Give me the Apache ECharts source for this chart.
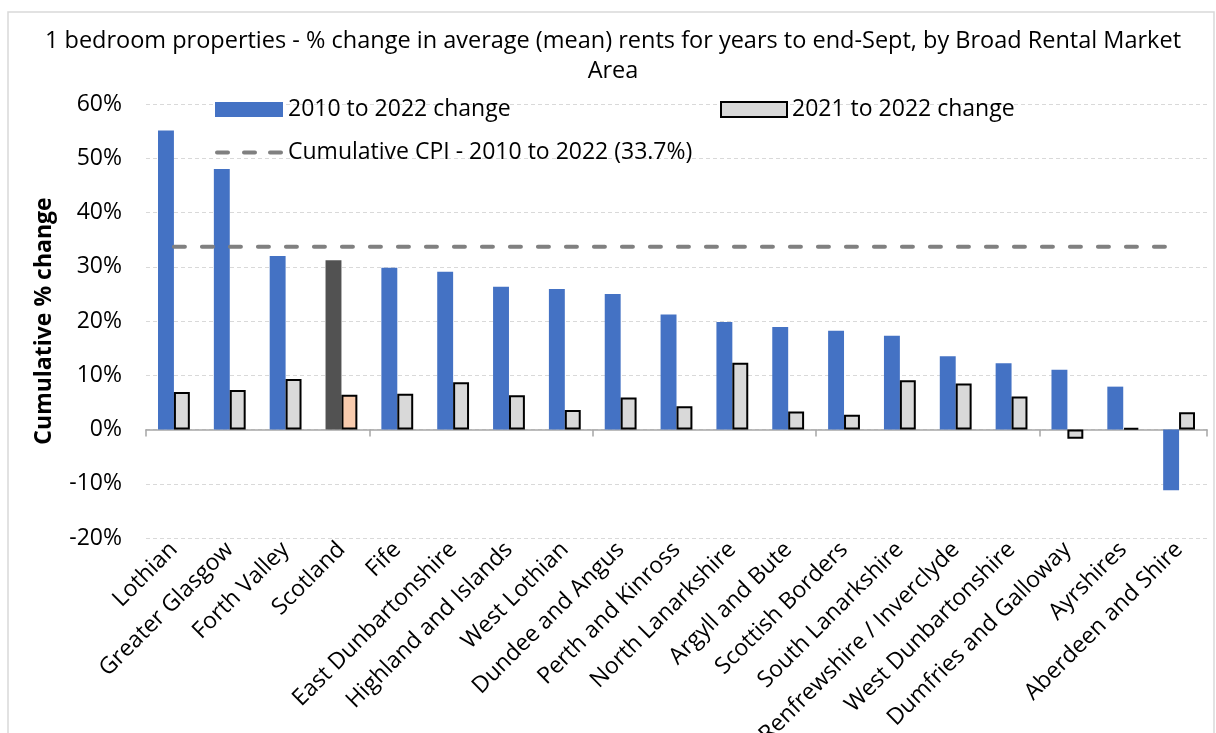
<!DOCTYPE html>
<html>
<head>
<meta charset="utf-8">
<title>1 bedroom properties - % change in average rents</title>
<script src="https://cdn.jsdelivr.net/npm/echarts@6/dist/echarts.min.js"></script>
<style>
  html, body { margin: 0; padding: 0; background: #ffffff; overflow: hidden; }
  #chart { width: 1216px; height: 733px; }
</style>
</head>
<body>
<div id="chart"></div>
<script>
// Broad Rental Market Areas, sorted by 2010-2022 change
const categories = [
  'Lothian', 'Greater Glasgow', 'Forth Valley', 'Scotland', 'Fife',
  'East Dunbartonshire', 'Highland and Islands', 'West Lothian',
  'Dundee and Angus', 'Perth and Kinross', 'North Lanarkshire',
  'Argyll and Bute', 'Scottish Borders', 'South Lanarkshire',
  'Renfrewshire / Inverclyde', 'West Dunbartonshire',
  'Dumfries and Galloway', 'Ayrshires', 'Aberdeen and Shire'
];

// % change in average (mean) 1 bedroom rents
const change2010to2022 = [55.1, 48.0, 32.0, 31.2, 29.8, 29.1, 26.3, 25.9, 25.0, 21.2,
                          19.8, 18.9, 18.2, 17.3, 13.5, 12.2, 11.0, 7.9, -11.2];
const change2021to2022 = [6.9, 7.3, 9.3, 6.4, 6.6, 8.7, 6.3, 3.6, 5.9, 4.3,
                          12.3, 3.3, 2.7, 9.1, 8.5, 6.1, -1.7, 0.3, 3.2];

// Cumulative CPI, 2010 to 2022
const cpiCumulative = 33.7;

// Value axis range (percent)
const yMin = -20;
const yMax = 60;
const yStep = 10;

const nationalArea = 'Scotland';
const FONT = '"Open Sans", "Noto Sans", sans-serif';

const chart = echarts.init(document.getElementById('chart'), null, { renderer: 'canvas' });

const longTermData = change2010to2022.map((v, i) =>
  categories[i] === nationalArea ? { value: v, itemStyle: { color: '#525252' } } : v);
const annualData = change2021to2022.map((v, i) =>
  categories[i] === nationalArea ? { value: v, itemStyle: { color: '#F8CBAD' } } : v);
const cpiData = categories.map(() => cpiCumulative);

const legendText = { fontFamily: FONT, fontSize: 23, color: '#000000' };

// three rounded dashes for the CPI legend key
const dashIcon = 'path://M2,0h11a2,2 0 0 1 0,4h-11a2,2 0 0 1 0,-4z' +
                 'M29,0h11a2,2 0 0 1 0,4h-11a2,2 0 0 1 0,-4z' +
                 'M55,0h11a2,2 0 0 1 0,4h-11a2,2 0 0 1 0,-4z';

const option = {
  backgroundColor: '#ffffff',
  animation: false,
  textStyle: { fontFamily: FONT },
  title: {
    text: '1 bedroom properties - % change in average (mean) rents for years to end-Sept, by Broad Rental Market\nArea',
    left: 608,
    textAlign: 'center',
    top: 21,
    textStyle: { fontFamily: FONT, fontSize: 23.5, fontWeight: 'normal', color: '#000000', lineHeight: 30 }
  },
  graphic: [{
    type: 'rect',
    shape: { x: 8, y: 12, width: 1206, height: 740 },
    style: { fill: 'none', stroke: '#D9D9D9', lineWidth: 1.5 },
    silent: true,
    z: -10
  }],
  legend: [
    {
      data: [{ name: '2010 to 2022 change', icon: 'rect' }],
      left: 215, top: 98, padding: 0,
      itemWidth: 68, itemHeight: 15, itemGap: 0,
      textStyle: legendText
    },
    {
      data: [{ name: '2021 to 2022 change', icon: 'rect' }],
      left: 720, top: 98, padding: 0,
      itemWidth: 66, itemHeight: 15, itemGap: 0,
      textStyle: legendText
    },
    {
      data: [{ name: 'Cumulative CPI - 2010 to 2022 (33.7%)', icon: dashIcon }],
      left: 215, top: 141, padding: 0,
      itemWidth: 68, itemHeight: 4, itemGap: 0,
      textStyle: legendText
    }
  ],
  grid: { left: 146, right: 9, top: 104, bottom: 195, containLabel: false, outerBoundsMode: 'none' },
  xAxis: [
    {
      type: 'category',
      data: categories,
      position: 'bottom',
      axisLine: { onZero: true, lineStyle: { color: '#A6A6A6', width: 1.5 } },
      axisTick: { show: true, length: 7, lineStyle: { color: '#A6A6A6', width: 1.5 } },
      axisLabel: { show: false },
      splitLine: { show: false }
    },
    {
      type: 'category',
      data: categories,
      position: 'bottom',
      axisLine: { show: false, onZero: false },
      axisTick: { show: false },
      axisLabel: {
        show: true, rotate: 45, interval: 0, margin: 8,
        fontFamily: FONT, fontSize: 23, color: '#000000'
      },
      splitLine: { show: false }
    }
  ],
  yAxis: {
    type: 'value',
    min: yMin, max: yMax, interval: yStep,
    name: 'Cumulative % change',
    nameLocation: 'middle',
    nameRotate: 90,
    nameGap: 90,
    nameTextStyle: { fontFamily: FONT, fontSize: 23, fontWeight: 'bold', color: '#000000' },
    axisLine: { show: false },
    axisTick: { show: false },
    axisLabel: { formatter: '{value}%', margin: 24, fontFamily: FONT, fontSize: 23, color: '#000000' },
    splitLine: { show: true, lineStyle: { color: '#D9D9D9', type: [4, 3], width: 1 } }
  },
  series: [
    {
      name: '2010 to 2022 change',
      type: 'bar',
      xAxisIndex: 0,
      data: longTermData,
      barGap: '0%',
      barCategoryGap: '43%',
      itemStyle: { color: '#4472C4' },
      z: 2
    },
    {
      name: '2021 to 2022 change',
      type: 'bar',
      xAxisIndex: 0,
      data: annualData,
      barGap: '0%',
      barCategoryGap: '43%',
      itemStyle: { color: '#D9D9D9', borderColor: '#000000', borderWidth: 2 },
      z: 2
    },
    {
      name: 'Cumulative CPI - 2010 to 2022 (33.7%)',
      type: 'line',
      xAxisIndex: 0,
      data: cpiData,
      symbol: 'none',
      lineStyle: { color: '#808080', width: 4, type: [11, 17], cap: 'round' },
      itemStyle: { color: '#808080' },
      z: 3
    }
  ]
};

chart.setOption(option);
</script>
</body>
</html>
